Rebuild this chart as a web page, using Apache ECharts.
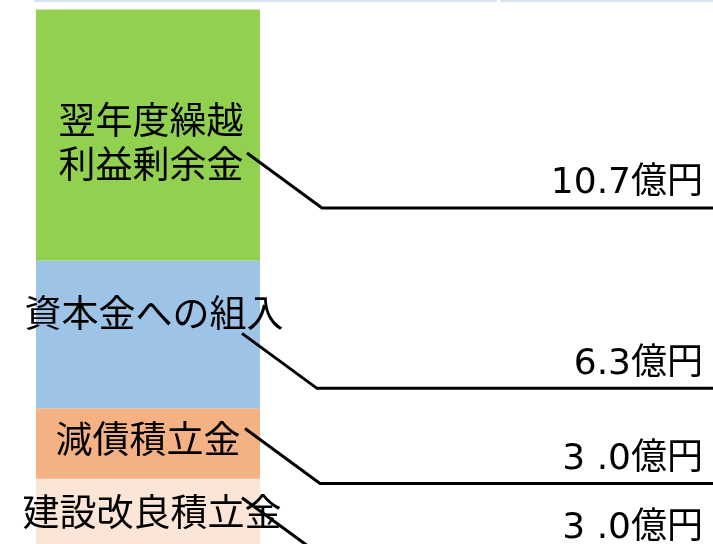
<!DOCTYPE html>
<html>
<head>
<meta charset="utf-8">
<script src="https://cdn.jsdelivr.net/npm/echarts@6/dist/echarts.min.js"></script>
<style>
html,body{margin:0;padding:0;overflow:hidden;background:#fff;}
#chart{width:713px;height:560px;}
</style>
</head>
<body>
<div id="chart"></div>
<script>
// Data (stack order: bottom -> top)
var categories = ['建設改良積立金', '減債積立金', '資本金への組入', '翌年度繰越\n利益剰余金'];
var values = [3.0, 3.0, 6.3, 10.7];
var valueLabels = ['3 .0億円', '3 .0億円', '6.3億円', '10.7億円'];
var colors = ['#fbe5d6', '#f4b183', '#9dc3e6', '#92d050'];

// annotation layout (pixels, relative to segment centre)
var nameOffsets = [[4, -2], [0, -5], [6, -21], [3, 7]];
var leaderStart = [[94, -16], [97, -15], [94, -1], [99, 18]];
var leaderDrop = [75, 55];

var FONT = '"Noto Sans CJK JP", "Noto Sans", sans-serif';
var VFONT = '"DejaVu Sans", "Noto Sans CJK JP", sans-serif';

var bottoms = [], acc = 0;
for (var i = 0; i < values.length; i++) { bottoms.push(acc); acc += values[i]; }

var series = categories.map(function (name, i) {
  return {
    type: 'bar',
    name: name,
    stack: 'total',
    barWidth: '100%',
    itemStyle: { color: colors[i] },
    silent: true,
    label: {
      show: true,
      position: 'inside',
      formatter: name,
      offset: nameOffsets[i],
      color: '#000',
      fontSize: 37,
      lineHeight: 44,
      fontFamily: FONT
    },
    data: [values[i]]
  };
});

series.push({
  type: 'custom',
  clip: false,
  silent: true,
  z: 10,
  data: values.map(function (v, i) { return [0, bottoms[i], bottoms[i] + v, i]; }),
  renderItem: function (params, api) {
    var idx = api.value(3);
    var c = api.coord([0, (api.value(1) + api.value(2)) / 2]);
    var sx = c[0] + leaderStart[idx][0];
    var sy = c[1] + leaderStart[idx][1];
    var cx = sx + leaderDrop[0];
    var cy = sy + leaderDrop[1];
    return {
      type: 'group',
      children: [
        {
          type: 'polyline',
          shape: { points: [[sx, sy], [cx, cy], [720, cy]] },
          style: { stroke: '#000', lineWidth: 3, fill: null }
        },
        {
          type: 'text',
          style: {
            x: 703, y: cy - 6,
            text: valueLabels[idx],
            align: 'right',
            verticalAlign: 'bottom',
            fill: '#000',
            fontSize: 36,
            fontFamily: VFONT
          }
        }
      ]
    };
  }
});

var chart = echarts.init(document.getElementById('chart'), null, { renderer: 'canvas' });
chart.setOption({
  animation: false,
  backgroundColor: '#fff',
  grid: { left: 36, right: 453, top: 9.5, bottom: 11 },
  xAxis: { type: 'category', data: [''], show: false },
  yAxis: { type: 'value', min: 0, max: 23, show: false },
  graphic: [
    { type: 'rect', shape: { x: 34, y: 0, width: 463, height: 2 }, style: { fill: '#d9e1f2' } },
    { type: 'rect', shape: { x: 500, y: 0, width: 213, height: 2 }, style: { fill: '#d9e1f2' } }
  ],
  series: series
});
</script>
</body>
</html>
